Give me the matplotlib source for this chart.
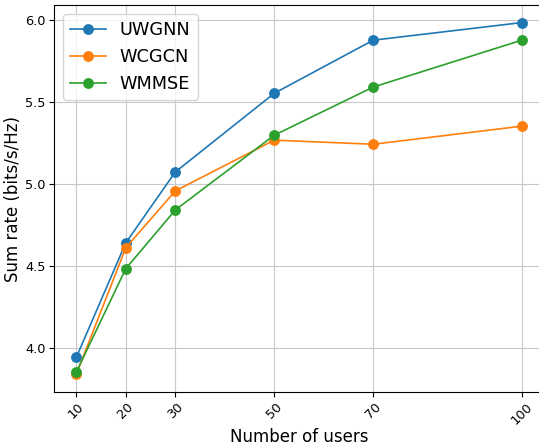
import matplotlib
matplotlib.use("Agg")
import matplotlib.pyplot as plt

users = [10, 20, 30, 50, 70, 100]
uwgnn = [3.945, 4.642, 5.073, 5.552, 5.875, 5.982]
wcgcn = [3.842, 4.612, 4.958, 5.267, 5.242, 5.352]
wmmse = [3.855, 4.485, 4.842, 5.297, 5.590, 5.875]

fig = plt.figure(figsize=(5.39, 4.48), dpi=100)
# axes run a little past the right edge, as in the reference crop
ax = fig.add_axes([54 / 539, 56 / 448, 490 / 539, 387 / 448])

ax.plot(users, uwgnn, marker="o", markersize=6.8, linewidth=1.2, label="UWGNN")
ax.plot(users, wcgcn, marker="o", markersize=6.8, linewidth=1.2, label="WCGCN")
ax.plot(users, wmmse, marker="o", markersize=6.8, linewidth=1.2, label="WMMSE")

ax.set_xticks(users)
ax.set_xticklabels([str(u) for u in users], rotation=45)
ax.tick_params(labelsize=9.3, pad=2.5)
ax.set_xlabel("Number of users", fontsize=12, labelpad=1)
ax.set_ylabel("Sum rate (bits/s/Hz)", fontsize=12, labelpad=2)
ax.grid(True, color="#c8c8c8")
ax.legend(loc="upper left", fontsize=12.8)

fig.savefig("out.png", dpi=100)
